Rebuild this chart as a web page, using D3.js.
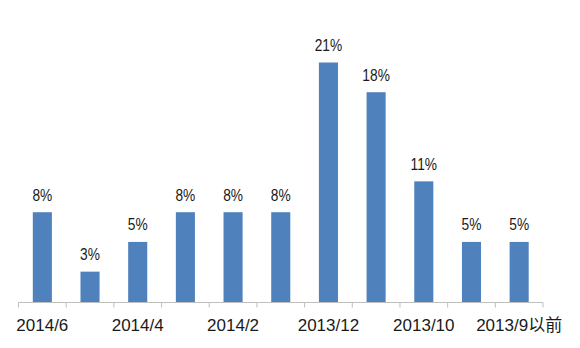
<!DOCTYPE html>
<html>
<head>
<meta charset="utf-8">
<script src="https://cdn.jsdelivr.net/npm/d3@7"></script>
<style>
  body { margin: 0; background: #fff; }
  svg { display: block; }
</style>
</head>
<body>
<svg id="chart" width="580" height="348"></svg>
<script>
// months, newest first (every other label shown, like the original)
var categories = ['2014/6', '2014/5', '2014/4', '2014/3', '2014/2', '2014/1',
  '2013/12', '2013/11', '2013/10', '2013/9', '2013/9以前']
var values = [7.9, 2.7, 5.3, 7.9, 7.9, 7.9, 21, 18.4, 10.6, 5.3, 5.3]
var valueLabels = ['8%', '3%', '5%', '8%', '8%', '8%', '21%', '18%', '11%', '5%', '5%']
var shownTicks = ['2014/6', '2014/4', '2014/2', '2013/12', '2013/10', '2013/9以前']

var svg = d3.select('#chart')
var baseY = 302.5

var x = d3.scaleBand()
  .domain(categories)
  .range([18.5, 543])
  .paddingInner(0.6)
  .paddingOuter(0.3)

var y = d3.scaleLinear()
  .domain([0, 21])
  .range([baseY, 62.5])

// bars
svg.append('g').selectAll('rect')
  .data(values)
  .enter()
  .append('rect')
  .attr('x', function (d, i) { return x(categories[i]) })
  .attr('width', x.bandwidth())
  .attr('y', function (d) { return y(d) })
  .attr('height', function (d) { return baseY - y(d) })
  .attr('fill', '#4f81bd')

// value labels - the original font is a bit condensed, squeeze them a little
svg.append('g').selectAll('text')
  .data(values)
  .enter()
  .append('text')
  .attr('transform', function (d, i) {
    return 'translate(' + (x(categories[i]) + x.bandwidth() / 2) + ',' + (y(d) - 11.5) + ') scale(0.86,1)'
  })
  .attr('text-anchor', 'middle')
  .style('font-family', '"Liberation Sans", Arial, sans-serif')
  .style('font-size', '16px')
  .attr('fill', '#1a1a1a')
  .text(function (d, i) { return valueLabels[i] })

// x axis line + boundary ticks
var step = x.step()
var left = x.range()[0]
var ax = svg.append('g')
ax.append('line')
  .attr('x1', left).attr('x2', x.range()[1])
  .attr('y1', baseY).attr('y2', baseY)
  .attr('stroke', '#bfbfbf').attr('stroke-width', 1)
ax.selectAll('line.tk')
  .data(d3.range(categories.length + 1))
  .enter()
  .append('line')
  .attr('class', 'tk')
  .attr('x1', function (i) { return left + i * step })
  .attr('x2', function (i) { return left + i * step })
  .attr('y1', baseY).attr('y2', baseY + 5)
  .attr('stroke', '#bfbfbf').attr('stroke-width', 1)

// category labels (every other one)
ax.selectAll('text')
  .data(shownTicks)
  .enter()
  .append('text')
  .attr('x', function (d) { return x(d) + x.bandwidth() / 2 })
  .attr('y', 331)
  .attr('text-anchor', 'middle')
  .style('font-family', '"Liberation Sans", Arial, "Noto Sans CJK SC", sans-serif')
  .style('font-size', '17px')
  .attr('fill', '#1a1a1a')
  .text(function (d) { return d })
</script>
</body>
</html>
